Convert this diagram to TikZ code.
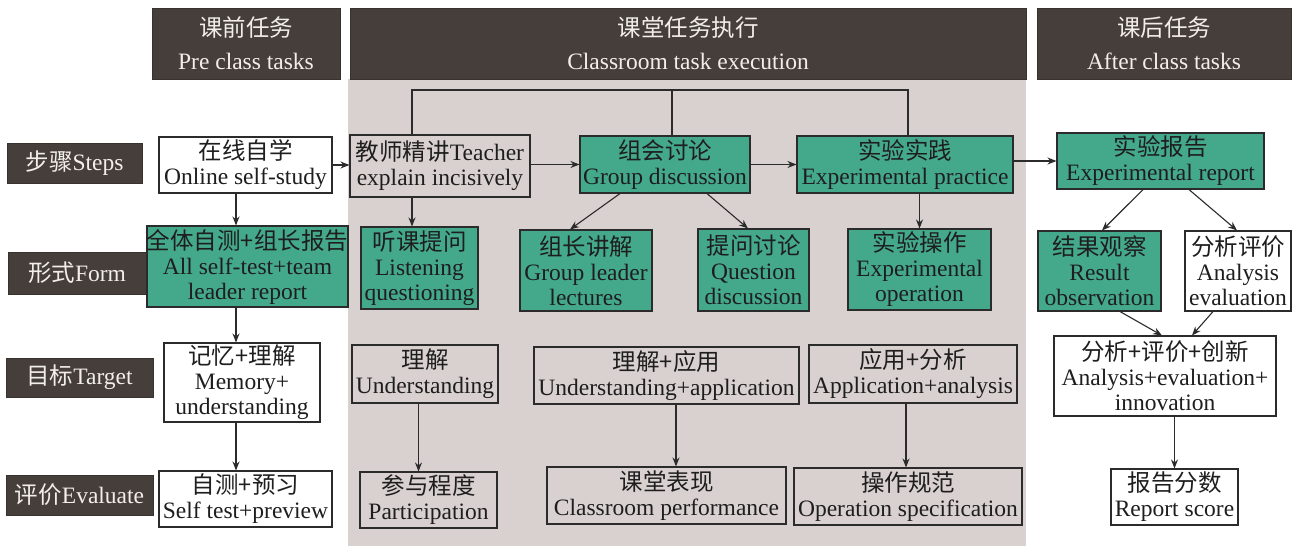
\documentclass[tikz,border=0pt]{standalone}
\usepackage{fontspec}
\setmainfont{Liberation Serif}
\newfontfamily\cjk{Noto Sans CJK SC}
\newcommand{\zhs}[1]{{\cjk #1}}
\usetikzlibrary{arrows.meta,calc}
\definecolor{dark}{HTML}{463E3A}
\definecolor{bgg}{HTML}{D9D1CF}
\definecolor{grn}{HTML}{44A98A}
\definecolor{linec}{HTML}{2B2B2B}
\definecolor{txt}{HTML}{1E1E1E}
\definecolor{htxt}{HTML}{F2EEEA}
\tikzset{
  sz/.style 2 args={minimum width=#1pt, minimum height=#2pt},
  base/.style={inner sep=0pt, align=center, text=txt, font=\fontsize{23.5}{25}\selectfont},
  hdr/.style={base, fill=dark, draw=dark!80!black, line width=0.8pt, text=htxt, font=\fontsize{23.5}{33}\selectfont},
  lab/.style={base, fill=dark, draw=dark!80!black, line width=0.8pt, text=htxt},
  gbox/.style={base, draw=linec, line width=1.1pt, fill=grn},
  wbox/.style={base, draw=linec, line width=1.1pt, fill=white},
  pbox/.style={base, draw=linec, line width=1.1pt, fill=bgg},
  conn/.style={draw=linec, line width=1.1pt},
  arr/.style={conn, -{Stealth[length=9pt,width=7pt]}}
}
\begin{document}
\begin{tikzpicture}[x=1pt,y=-1pt]
\useasboundingbox (0,0) rectangle (1294,546);
\fill[white] (0,0) rectangle (1294,546);
\fill[bgg] (348,79) rectangle (1026,546);
% headers
\node[hdr, sz={188}{71}] (hpre) at (246,43.5) {\zhs{课前任务}\\Pre class tasks};
\node[hdr, sz={676}{71}] (hcls) at (688,43.5) {\zhs{课堂任务执行}\\Classroom task execution};
\node[hdr, sz={254}{71}] (haft) at (1164,43.5) {\zhs{课后任务}\\After class tasks};
% row labels
\node[lab, sz={135}{40}] (lsteps) at (74.5,163) {\zhs{步骤}Steps};
\node[lab, sz={138}{42}] (lform) at (77,273) {\zhs{形式}Form};
\node[lab, sz={147}{39}] (ltarget) at (79.5,377.5) {\zhs{目标}Target};
\node[lab, sz={147}{40}] (leval) at (79.5,495) {\zhs{评价}Evaluate};
% pre class
\node[wbox, sz={173}{56}] (online) at (245.5,165) {\zhs{在线自学}\\Online self-study};
\node[gbox, sz={197}{81}] (allself) at (247.5,266.5) {\zhs{全体自测+组长报告}\\All self-test+team\\leader report};
\node[wbox, sz={156}{79}] (memory) at (242,382.5) {\zhs{记忆+理解}\\Memory+\\understanding};
\node[wbox, sz={173}{56}] (selftest) at (245.5,499) {\zhs{自测+预习}\\Self test+preview};
% classroom
\node[pbox, sz={180}{62}] (teacher) at (440,166) {\zhs{教师精讲}Teacher\\explain incisively};
\node[gbox, sz={170}{57}] (group) at (665,164.5) {\zhs{组会讨论}\\Group discussion};
\node[gbox, sz={216}{57}] (exppr) at (905,164.5) {\zhs{实验实践}\\Experimental practice};
\node[gbox, sz={117}{82}] (listen) at (419.5,268) {\zhs{听课提问}\\Listening\\questioning};
\node[gbox, sz={132}{81}] (glect) at (586,270.5) {\zhs{组长讲解}\\Group leader\\lectures};
\node[gbox, sz={111}{82}] (qdisc) at (753.5,270) {\zhs{提问讨论}\\Question\\discussion};
\node[gbox, sz={143}{81}] (expop) at (919.5,269.5) {\zhs{实验操作}\\Experimental\\operation};
\node[pbox, sz={146}{58}] (und) at (425,374) {\zhs{理解}\\Understanding};
\node[pbox, sz={265}{57}] (undapp) at (666.5,375.5) {\zhs{理解+应用}\\Understanding+application};
\node[pbox, sz={208}{58}] (appana) at (913,374) {\zhs{应用+分析}\\Application+analysis};
\node[pbox, sz={137}{56}] (partic) at (428.5,500) {\zhs{参与程度}\\Participation};
\node[pbox, sz={239}{57}] (cperf) at (666.5,495.5) {\zhs{课堂表现}\\Classroom performance};
\node[pbox, sz={228}{57}] (opspec) at (908,496.5) {\zhs{操作规范}\\Operation specification};
% after class
\node[gbox, sz={207}{56}] (report) at (1160.5,161) {\zhs{实验报告}\\Experimental report};
\node[gbox, sz={123}{80}] (result) at (1099.5,271) {\zhs{结果观察}\\Result\\observation};
\node[wbox, sz={106}{80}] (anal) at (1238,271) {\zhs{分析评价}\\Analysis\\evaluation};
\node[wbox, sz={222}{80}] (innov) at (1165,376) {\zhs{分析+评价+创新}\\Analysis+evaluation+\\innovation};
\node[wbox, sz={127}{56}] (rscore) at (1174.5,497) {\zhs{报告分数}\\Report score};
% helper coordinates
\coordinate (pc) at (236,0);
\coordinate (t1) at (412,90);
\coordinate (t2) at (672,90);
\coordinate (t3) at (908,90);
\coordinate (uc) at (418.5,0);
\coordinate (uac) at (676,0);
\coordinate (aac) at (906,0);
% connectors
\draw[conn] (teacher.north -| t1) -- (t1) -- (t3) -- (exppr.north -| t3);
\draw[conn] (group.north -| t2) -- (t2);
\draw[arr] (online.east) -- (online.east -| teacher.west);
\draw[arr] (group.west -| teacher.east) -- (group.west);
\draw[arr] (group.east) -- (exppr.west);
\draw[arr] (report.west -| exppr.east) -- (report.west);
\draw[arr] (online.south -| pc) -- (allself.north -| pc);
\draw[arr] (allself.south -| pc) -- (memory.north -| pc);
\draw[arr] (memory.south -| pc) -- (selftest.north -| pc);
\draw[arr] (teacher.south -| t1) -- (listen.north -| t1);
\draw[arr] ($(group.south)+(-45,0)$) -- ($(glect.north)+(-16,0)$);
\draw[arr] ($(group.south)+(42,0)$) -- ($(qdisc.north)+(-5.5,0)$);
\draw[arr] (expop.north |- exppr.south) -- (expop.north);
\draw[arr] ($(report.south)+(-17.5,0)$) -- ($(result.north)+(2.5,0)$);
\draw[arr] ($(report.south)+(28.5,0)$) -- ($(anal.north)+(-1,0)$);
\draw[arr] ($(result.south)+(20.5,0)$) -- ($(innov.north)+(-3,0)$);
\draw[arr] ($(anal.south)+(-25,0)$) -- ($(innov.north)+(27,0)$);
\draw[arr] (und.south -| uc) -- (partic.north -| uc);
\draw[arr] (undapp.south -| uac) -- (cperf.north -| uac);
\draw[arr] (appana.south -| aac) -- (opspec.north -| aac);
\draw[arr] (rscore.north |- innov.south) -- (rscore.north);
\end{tikzpicture}
\end{document}
